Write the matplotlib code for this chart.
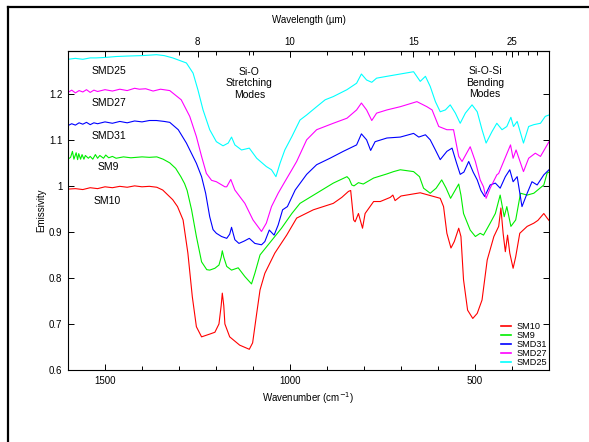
import numpy as np
import matplotlib
matplotlib.use("Agg")
import matplotlib.pyplot as plt
from matplotlib.lines import Line2D

plt.rcParams.update({
    "font.family": ["Liberation Sans", "DejaVu Sans"],
    "font.size": 7,
    "axes.linewidth": 0.8,
})

# emissivity spectra (wavenumber cm-1, emissivity)
sm10_wn = [1600, 1580, 1560, 1540, 1520, 1500, 1480, 1460, 1440, 1420, 1400, 1380, 1360,
           1344, 1317, 1304, 1289, 1276, 1264, 1253, 1239, 1217, 1203, 1192, 1186, 1183,
           1179, 1176, 1163, 1136, 1110, 1101, 1090, 1081, 1068, 1041, 1009, 982, 937, 883,
           860, 842, 836, 828, 824, 815, 804, 797, 774, 756, 729, 722, 716, 700, 648, 594,
           585, 576, 565, 556, 544, 538, 531, 520, 506, 494, 481, 467, 449, 436, 430, 424,
           418, 412, 406, 397, 390, 379, 359, 341, 330, 314, 305, 300]
sm10_em = [0.993, 0.994, 0.992, 0.996, 0.994, 0.998, 0.996, 0.999, 0.997, 1.000, 0.998, 0.999, 0.997,
           0.991, 0.970, 0.955, 0.926, 0.854, 0.759, 0.694, 0.672, 0.678, 0.682, 0.700, 0.740, 0.767,
           0.740, 0.700, 0.672, 0.654, 0.645, 0.659, 0.723, 0.774, 0.810, 0.854, 0.893, 0.930, 0.948, 0.962,
           0.975, 0.988, 0.990, 0.926, 0.922, 0.940, 0.908, 0.940, 0.966, 0.966, 0.975, 0.980, 0.968, 0.978, 0.985, 0.973,
           0.955, 0.897, 0.865, 0.879, 0.908, 0.890, 0.796, 0.730, 0.712, 0.723, 0.752, 0.839, 0.890, 0.912, 0.952, 0.897,
           0.857, 0.893, 0.854, 0.821, 0.846, 0.897, 0.912, 0.919, 0.925, 0.940, 0.930, 0.925]

sm9_wn = [1600, 1593, 1588, 1584, 1578, 1574, 1571, 1566, 1562, 1557, 1553, 1545, 1540, 1533,
          1526, 1520, 1514, 1504, 1498, 1490, 1480, 1470, 1450, 1430, 1400, 1380, 1360, 1343,
          1325, 1309, 1295, 1285, 1278, 1266, 1253, 1239, 1225, 1217, 1203, 1192, 1186, 1183,
          1179, 1171, 1158, 1140, 1122, 1104, 1095, 1081, 1059, 1041, 1023, 995, 973, 928, 883,
          846, 840, 833, 827, 815, 802, 774, 738, 720, 702, 666, 650, 639, 621, 605, 590, 578,
          566, 554, 544, 538, 531, 513, 499, 486, 477, 459, 445, 432, 421, 414, 403, 390, 377,
          359, 341, 314, 305, 300]
sm9_em = [1.058, 1.062, 1.075, 1.058, 1.072, 1.057, 1.070, 1.058, 1.068, 1.058, 1.066, 1.060, 1.064, 1.058,
          1.068, 1.060, 1.066, 1.060, 1.067, 1.061, 1.064, 1.060, 1.063, 1.061, 1.063, 1.062, 1.063, 1.058,
          1.050, 1.038, 1.020, 1.005, 0.990, 0.948, 0.890, 0.835, 0.818, 0.817, 0.821, 0.828, 0.845, 0.859,
          0.845, 0.825, 0.817, 0.822, 0.803, 0.787, 0.810, 0.850, 0.872, 0.890, 0.908, 0.940, 0.962, 0.984, 1.006,
          1.020, 1.015, 1.002, 1.000, 1.007, 1.004, 1.017, 1.026, 1.031, 1.035, 1.031, 1.020, 0.995, 0.984, 0.995, 1.013, 0.995,
          0.973, 0.990, 1.004, 0.980, 0.940, 0.904, 0.890, 0.897, 0.893, 0.919, 0.940, 0.980, 0.933, 0.955, 0.912, 0.926, 0.984,
          0.980, 0.984, 1.002, 1.028, 1.030]

smd31_wn = [1600, 1590, 1580, 1570, 1560, 1550, 1540, 1530, 1520, 1500, 1480, 1460, 1440, 1420,
            1400, 1380, 1361, 1340, 1325, 1302, 1280, 1253, 1239, 1228, 1217, 1208, 1199, 1185,
            1171, 1163, 1158, 1153, 1149, 1138, 1124, 1110, 1095, 1077, 1068, 1056, 1043, 1032,
            1020, 1007, 986, 955, 928, 892, 856, 820, 807, 793, 782, 770, 738, 702, 666, 652, 634,
            621, 607, 594, 576, 562, 550, 540, 530, 517, 505, 494, 484, 474, 459, 445, 432, 418,
            406, 397, 386, 373, 359, 346, 332, 314, 300]
smd31_em = [1.131, 1.135, 1.132, 1.137, 1.134, 1.138, 1.133, 1.137, 1.135, 1.139, 1.136, 1.140, 1.137, 1.141,
            1.139, 1.142, 1.142, 1.140, 1.138, 1.122, 1.093, 1.049, 1.020, 0.984, 0.933, 0.905, 0.897, 0.890,
            0.886, 0.895, 0.910, 0.895, 0.883, 0.875, 0.880, 0.886, 0.875, 0.872, 0.879, 0.904, 0.893, 0.915,
            0.948, 0.955, 0.991, 1.025, 1.046, 1.060, 1.075, 1.089, 1.113, 1.100, 1.077, 1.096, 1.104, 1.106, 1.114, 1.106, 1.111,
            1.100, 1.078, 1.057, 1.075, 1.082, 1.050, 1.025, 1.030, 1.053, 1.030, 1.013, 0.990, 0.977, 1.002, 1.006, 0.995, 1.020,
            1.035, 1.009, 1.020, 0.955, 0.984, 1.009, 1.002, 1.024, 1.035]

smd27_wn = [1600, 1590, 1580, 1570, 1560, 1550, 1540, 1530, 1520, 1500, 1480, 1460, 1440, 1420,
            1407, 1390, 1370, 1350, 1325, 1294, 1271, 1253, 1239, 1226, 1212, 1199, 1176, 1171,
            1160, 1149, 1122, 1100, 1077, 1064, 1050, 1032, 1014, 995, 982, 955, 928, 883, 846,
            820, 807, 793, 779, 766, 738, 702, 657, 630, 616, 598, 576, 558, 544, 535, 513, 499,
            486, 477, 470, 459, 441, 436, 404, 397, 389, 369, 355, 337, 323, 310, 300]
smd27_em = [1.203, 1.208, 1.202, 1.207, 1.204, 1.209, 1.203, 1.208, 1.205, 1.209, 1.206, 1.210, 1.207, 1.212,
            1.210, 1.211, 1.206, 1.210, 1.207, 1.187, 1.151, 1.107, 1.064, 1.027, 1.012, 1.009, 0.998, 0.998,
            1.014, 0.991, 0.962, 0.926, 0.901, 0.919, 0.955, 0.984, 1.009, 1.035, 1.053, 1.100, 1.122, 1.136, 1.147,
            1.165, 1.180, 1.165, 1.142, 1.158, 1.165, 1.172, 1.183, 1.172, 1.165, 1.129, 1.122, 1.122, 1.064, 1.053, 1.085, 1.053,
            1.013, 0.998, 0.973, 0.995, 1.024, 1.027, 1.089, 1.060, 1.078, 1.031, 1.060, 1.071, 1.064, 1.082, 1.096]

smd25_wn = [1600, 1580, 1560, 1540, 1524, 1500, 1470, 1440, 1400, 1380, 1361, 1340, 1317, 1280,
            1262, 1249, 1235, 1217, 1199, 1181, 1167, 1158, 1149, 1131, 1110, 1090, 1064, 1050,
            1038, 1027, 1014, 995, 973, 955, 928, 905, 883, 846, 820, 807, 793, 779, 766, 738,
            702, 666, 648, 634, 621, 607, 594, 580, 567, 553, 540, 526, 508, 494, 481, 470, 454,
            441, 427, 414, 403, 396, 386, 369, 355, 341, 323, 310, 300]
smd25_em = [1.275, 1.277, 1.275, 1.278, 1.278, 1.279, 1.281, 1.282, 1.283, 1.284, 1.285, 1.283, 1.278, 1.267,
            1.245, 1.209, 1.165, 1.122, 1.096, 1.087, 1.093, 1.106, 1.089, 1.078, 1.082, 1.060, 1.042, 1.035,
            1.020, 1.049, 1.078, 1.107, 1.143, 1.154, 1.172, 1.187, 1.194, 1.209, 1.223, 1.243, 1.230, 1.225, 1.234, 1.238,
            1.243, 1.248, 1.227, 1.238, 1.216, 1.183, 1.161, 1.165, 1.176, 1.158, 1.136, 1.158, 1.176, 1.161, 1.122, 1.093, 1.118,
            1.136, 1.122, 1.129, 1.149, 1.129, 1.140, 1.093, 1.129, 1.133, 1.136, 1.151, 1.154]

names = ["SM10", "SM9", "SMD31", "SMD27", "SMD25"]
colors = ["#ff0000", "#00ee00", "#0000ff", "#ff00ff", "#00ffff"]
series = [(sm10_wn, sm10_em), (sm9_wn, sm9_em), (smd31_wn, smd31_em),
          (smd27_wn, smd27_em), (smd25_wn, smd25_em)]

um_major = [8, 10, 15, 25]
um_minor = [9, 12, 16, 18, 20, 22, 24, 26, 28, 30]

fig = plt.figure(figsize=(5.89, 4.42), dpi=100)
W, H = 589, 442
ax = fig.add_axes([68 / W, 1 - 370 / H, (549 - 68) / W, (370 - 51) / H])

for (wn, em), name, c in zip(series, names, colors):
    ax.plot(wn, em, color=c, lw=0.8, label=name)

ax.set_xlim(1600, 300)
ax.set_ylim(0.6, 1.293)
ax.set_xticks([1500, 1000, 500])
ax.set_xticks(np.arange(400, 1600, 100), minor=True)
ax.set_yticks(np.arange(0.6, 1.21, 0.1))
ax.yaxis.set_major_formatter(matplotlib.ticker.FormatStrFormatter("%g"))
ax.tick_params(which="both", direction="in", top=True, right=True, labelsize=7, pad=4)
ax.tick_params(which="major", length=4.5, width=0.7)
ax.tick_params(which="minor", length=3, width=0.7)

ax.set_xlabel("Wavenumber (cm$^{-1}$)", fontsize=7, labelpad=3)
ax.set_ylabel("Emissivity", fontsize=7, labelpad=2)


def wn2um(x):
    x = np.asarray(x, dtype=float)
    with np.errstate(divide="ignore"):
        return 10000.0 / x


sec = ax.secondary_xaxis("top", functions=(wn2um, wn2um))
sec.set_xticks(um_major)
sec.set_xticks(um_minor, minor=True)
sec.set_xticklabels([str(v) for v in um_major])
sec.tick_params(which="both", direction="in", labelsize=7, pad=3)
sec.tick_params(which="major", length=4.5, width=0.7)
sec.tick_params(which="minor", length=3, width=0.7)
sec.set_xlabel("Wavelength (\u00b5m)", fontsize=7, labelpad=10)

# curve labels
ax.text(1537, 1.249, "SMD25", fontsize=7.5, va="center")
ax.text(1537, 1.181, "SMD27", fontsize=7.5, va="center")
ax.text(1537, 1.109, "SMD31", fontsize=7.5, va="center")
ax.text(1519, 1.042, "SM9", fontsize=7.5, va="center")
ax.text(1530, 0.968, "SM10", fontsize=7.5, va="center")
ax.text(1110, 1.223, "Si-O\nStretching\nModes", fontsize=7.5, ha="center", va="center",
        linespacing=1.2)
ax.text(473, 1.224, "Si-O-Si\nBending\nModes", fontsize=7.5, ha="center", va="center",
        linespacing=1.2)

leg = ax.legend(loc="lower right", bbox_to_anchor=(1.01, -0.012), frameon=False, fontsize=6.6,
                handlelength=1.1, handletextpad=0.6, labelspacing=0.0, borderpad=0.2)
for h in leg.get_lines():
    h.set_linewidth(1.2)

# page frame
fig.add_artist(Line2D([8 / W, 8 / W], [0, 1 - 7 / H], transform=fig.transFigure,
                      color="black", lw=1.6))
fig.add_artist(Line2D([8 / W, 1], [1 - 7 / H, 1 - 7 / H], transform=fig.transFigure,
                      color="black", lw=1.6))

fig.savefig("out.png", dpi=100, facecolor="white")
